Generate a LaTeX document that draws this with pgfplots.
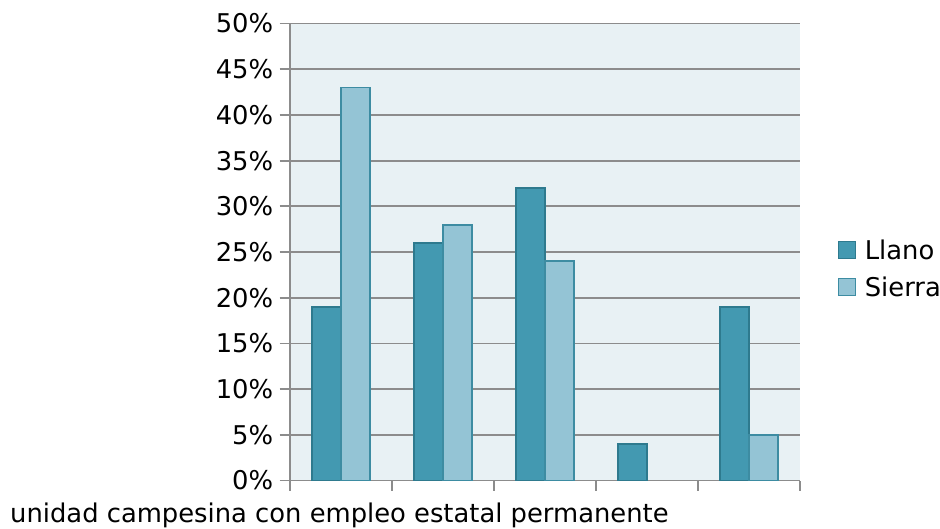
\documentclass[border=0pt]{standalone}
\usepackage{pgfplots}
\pgfplotsset{compat=1.18}
\usepackage{fontspec}
\setmainfont{DejaVu Sans}
\definecolor{bg}{HTML}{E8F1F4}
\definecolor{llano}{HTML}{4399B1}
\definecolor{llanoedge}{HTML}{2E7A8E}
\definecolor{sierra}{HTML}{94C4D5}
\definecolor{sierraedge}{HTML}{3D8CA2}
\definecolor{gridc}{HTML}{8C8C8C}
\begin{document}
\begin{tikzpicture}[x=1bp,y=1bp]
\begin{axis}[
  at={(284,53)}, anchor=south west,
  scale only axis, width=510bp, height=457bp,
  xmin=-0.5, xmax=4.5, ymin=0, ymax=50,
  axis background/.style={fill=bg},
  axis line style={gridc, line width=1.8bp},
  axis x line*=bottom, axis y line*=left,
  xtick={-0.5,0.5,1.5,2.5,3.5,4.5}, xticklabels={},
  ytick={0,5,...,50},
  yticklabel={\pgfmathprintnumber{\tick}\%},
  /pgf/number format/assume math mode=true,
  ticklabel style={font=\fontsize{25.8bp}{30bp}\selectfont},
  yticklabel style={xshift=-3bp},
  tick style={gridc, line width=1.8bp},
  tick align=outside, major tick length=10bp,
  ymajorgrids, grid style={gridc, line width=1.8bp},
  ybar, bar width=29bp,
  legend style={at={(1.074,0.464)}, anchor=west, draw=none, fill=none,
    font=\fontsize{25.8bp}{30bp}\selectfont, row sep=12bp, inner sep=0pt,
    /tikz/every odd column/.append style={column sep=7bp}},
  legend cell align=left,
  legend image code/.code={\draw[#1,line width=1.2bp] (0bp,-8.5bp) rectangle (17bp,8.5bp);},
]
\addplot[fill=llano, draw=llanoedge, line width=1.8bp, bar shift=-14.5bp] coordinates {(0,19) (1,26) (2,32) (3,4) (4,19)};
\addplot[fill=sierra, draw=sierraedge, line width=1.8bp, bar shift=14.5bp] coordinates {(0,43) (1,28) (2,24) (4,5)};
\legend{Llano, Sierra}
\end{axis}
\node[anchor=base west, inner sep=0pt, font=\fontsize{25.8bp}{30bp}\selectfont] at (10,6) {unidad campesina con empleo estatal permanente};
\pgfresetboundingbox
\useasboundingbox (0,0) rectangle (940,529);
\end{tikzpicture}
\end{document}
